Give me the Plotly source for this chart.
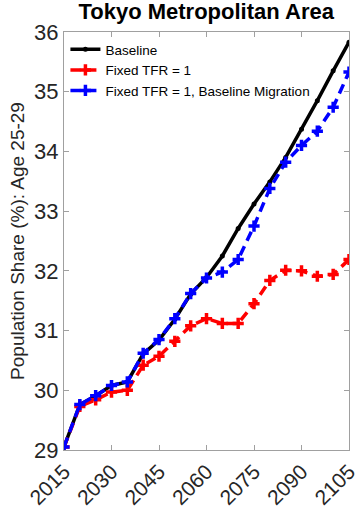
import plotly.graph_objects as go

years = list(range(2015, 2106, 5))
baseline = [29.05, 29.76, 29.91, 30.08, 30.14, 30.61, 30.84, 31.19, 31.61, 31.89,
            32.25, 32.71, 33.12, 33.49, 33.9, 34.37, 34.85, 35.35, 35.83]
fixed_tfr = [29.05, 29.73, 29.84, 29.97, 30.0, 30.42, 30.57, 30.82, 31.08, 31.2,
             31.12, 31.12, 31.45, 31.84, 32.01, 32.0, 31.91, 31.94, 32.19]
fixed_tfr_mig = [29.05, 29.76, 29.91, 30.08, 30.14, 30.62, 30.85, 31.2, 31.62, 31.88,
                 31.98, 32.19, 32.75, 33.38, 33.82, 34.1, 34.34, 34.74, 35.33]
xticks = [2015, 2030, 2045, 2060, 2075, 2090, 2105]
yticks = [29, 30, 31, 32, 33, 34, 35, 36]

fig = go.Figure()
fig.add_trace(go.Scatter(x=years, y=baseline, name="Baseline", mode="lines+markers",
                         line=dict(color="black", width=3.5),
                         marker=dict(symbol="circle", size=5, color="black")))
fig.add_trace(go.Scatter(x=years, y=fixed_tfr, name="Fixed TFR = 1", mode="lines+markers",
                         line=dict(color="#ff0000", width=3.5, dash="10px,6px"),
                         marker=dict(symbol="cross-thin", size=8,
                                     line=dict(color="#ff0000", width=3.5))))
fig.add_trace(go.Scatter(x=years, y=fixed_tfr_mig, name="Fixed TFR = 1, Baseline Migration",
                         mode="lines+markers",
                         line=dict(color="#0000ff", width=3.5, dash="10px,6px"),
                         marker=dict(symbol="cross-thin", size=8,
                                     line=dict(color="#0000ff", width=3.5))))

fig.update_layout(
    width=363, height=511,
    margin=dict(l=64, r=14, t=32, b=61),
    paper_bgcolor="white", plot_bgcolor="white",
    font=dict(family="Liberation Sans, Arial, sans-serif", color="#262626"),
    title=dict(text="<b>Tokyo Metropolitan Area</b>", x=0.568, xanchor="center",
               y=0.993, yanchor="top", font=dict(size=22, color="black")),
    legend=dict(x=0.005, y=0.995, xanchor="left", yanchor="top",
                bgcolor="rgba(255,255,255,0)", font=dict(size=13.5, color="black"),
                itemwidth=30, tracegroupgap=0),
    showlegend=True,
)
fig.update_xaxes(range=[2015, 2105], tickvals=xticks, ticktext=[str(t) for t in xticks],
                 tickangle=-45, tickfont=dict(size=21), ticks="inside", ticklen=5,
                 tickcolor="#a0a0a0", showline=True, linecolor="#a0a0a0", linewidth=1,
                 mirror="ticks", showgrid=False, zeroline=False, automargin=False)
fig.update_yaxes(range=[29, 36], tickvals=yticks, tickfont=dict(size=22), ticks="inside",
                 ticklen=5, tickcolor="#a0a0a0", showline=True, linecolor="#a0a0a0",
                 linewidth=1, mirror="ticks", showgrid=False, zeroline=False,
                 automargin=False,
                 title=dict(text="Population Share (%): Age 25-29", font=dict(size=19),
                            standoff=4))

fig.write_html("out.html")
